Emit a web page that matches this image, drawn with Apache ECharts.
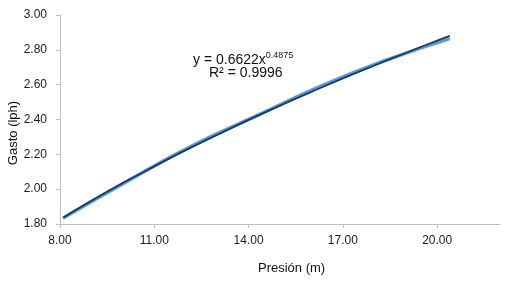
<!DOCTYPE html>
<html>
<head>
<meta charset="utf-8">
<script src="https://cdn.jsdelivr.net/npm/echarts@6/dist/echarts.min.js"></script>
<style>
  html, body { margin: 0; padding: 0; background: #fff; }
  #chart { width: 511px; height: 283px; }
</style>
</head>
<body>
<div id="chart"></div>
<script>
'use strict';
// measured data (presión m, gasto lph)
const presion = [8.1, 10.2, 12.3, 14.3, 16.3, 18.4, 20.4];
const gasto = [1.835, 2.052, 2.258, 2.425, 2.592, 2.742, 2.864];

// power trendline y = 0.6622x^0.4875
const trendX = [8.1, 9, 10, 11, 12, 13, 14, 15, 16, 17, 18, 19, 20, 20.4];
const trendY = [1.836, 1.933, 2.035, 2.131, 2.224, 2.312, 2.398, 2.480, 2.559, 2.636, 2.710, 2.782, 2.853, 2.880];

const xTicks = [8, 11, 14, 17, 20];

let dom = document.getElementById('chart');
let myChart = echarts.init(dom);
let fontFamily = 'Liberation Sans, Arial, sans-serif';

let option = {
    animation: false,
    grid: {
        left: 60,
        right: 11,
        top: 15,
        bottom: 59
    },
    xAxis: {
        type: 'value',
        min: 8,
        max: 22,
        interval: 3,
        axisLine: { lineStyle: { color: '#bfbfbf' } },
        axisTick: { show: true, length: 4, lineStyle: { color: '#bfbfbf' } },
        splitLine: { show: false },
        axisLabel: {
            showMaxLabel: false,
            margin: 11,
            color: '#1a1a1a',
            fontSize: 12,
            fontFamily: fontFamily,
            formatter: function (v) {
                return xTicks.indexOf(v) >= 0 ? v.toFixed(2) : '';
            }
        }
    },
    yAxis: {
        type: 'value',
        min: 1.8,
        max: 3.0,
        interval: 0.2,
        axisLine: { show: true, lineStyle: { color: '#bfbfbf' } },
        axisTick: { show: true, length: 4, lineStyle: { color: '#bfbfbf' } },
        splitLine: { show: false },
        axisLabel: {
            margin: 13,
            color: '#1a1a1a',
            fontSize: 12,
            fontFamily: fontFamily,
            formatter: function (v) { return v.toFixed(2); }
        }
    },
    series: [{
        name: 'Datos',
        type: 'line',
        data: presion.map((x, i) => [x, gasto[i]]),
        smooth: true,
        showSymbol: false,
        lineStyle: { color: '#5b9bd5', width: 3.5 },
        z: 2
    }, {
        name: 'Tendencia',
        type: 'line',
        data: trendX.map((x, i) => [x, trendY[i]]),
        smooth: true,
        showSymbol: false,
        lineStyle: { color: '#1c3a5e', width: 1.8 },
        z: 3
    }],
    graphic: [{
        type: 'text',
        left: 193,
        top: 51,
        style: {
            text: '{a|y = 0.6622x}{s|0.4875}',
            rich: {
                a: { fontSize: 14, fontFamily: fontFamily, fill: '#111', verticalAlign: 'bottom', lineHeight: 16 },
                s: { fontSize: 9, fontFamily: fontFamily, fill: '#111', verticalAlign: 'top', lineHeight: 16 }
            }
        }
    }, {
        type: 'text',
        left: 209,
        top: 66,
        style: {
            text: 'R² = 0.9996',
            font: '14px ' + fontFamily,
            fill: '#111'
        }
    }, {
        type: 'text',
        left: 258,
        top: 262,
        style: {
            text: 'Presión (m)',
            font: '13px ' + fontFamily,
            fill: '#111'
        }
    }, {
        type: 'text',
        x: 13,
        y: 133,
        rotation: Math.PI / 2,
        style: {
            text: 'Gasto (lph)',
            font: '13px ' + fontFamily,
            fill: '#111',
            align: 'center',
            verticalAlign: 'middle'
        }
    }]
};

myChart.setOption(option, true);
</script>
</body>
</html>
